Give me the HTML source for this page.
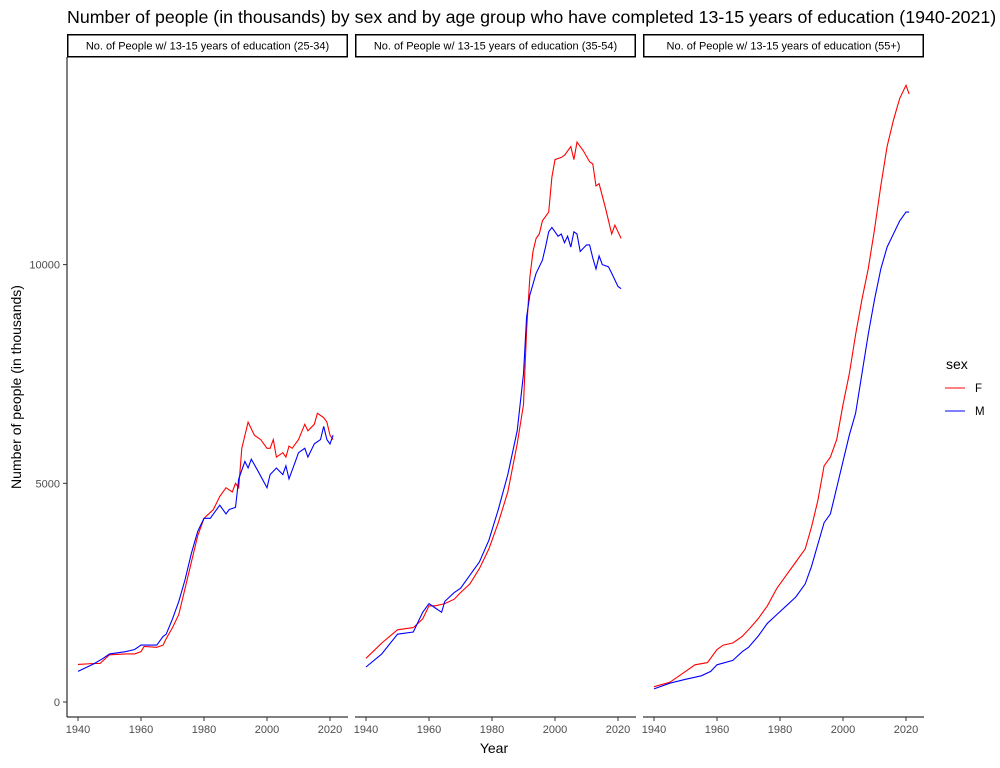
<!DOCTYPE html>
<html><head><meta charset="utf-8"><style>
body{margin:0;background:#fff;font-family:"Liberation Sans",sans-serif;}
</style></head><body>
<svg width="1000" height="763" xmlns="http://www.w3.org/2000/svg" font-family="Liberation Sans, sans-serif">
<text x="67" y="23" font-size="17.8" fill="#000">Number of people (in thousands) by sex and by age group who have completed 13-15 years of education (1940-2021)</text>
<g id="panels"></g>
<text x="494" y="753" font-size="14" text-anchor="middle">Year</text>
<text transform="translate(21,387) rotate(-90)" font-size="14" text-anchor="middle">Number of people (in thousands)</text>
<g>
<text x="946" y="369" font-size="14">sex</text>
<line x1="945" y1="388" x2="965" y2="388" stroke="#ff0000"/>
<text x="975" y="392" font-size="11.5">F</text>
<line x1="945" y1="411" x2="965" y2="411" stroke="#0000ff"/>
<text x="975" y="415" font-size="11.5">M</text>
</g>
</svg>
<script>
const panelTitles=["No. of People w/ 13-15 years of education (25-34)","No. of People w/ 13-15 years of education (35-54)","No. of People w/ 13-15 years of education (55+)"];
const xTicks=[1940,1960,1980,2000,2020];
const yTicks=[0,5000,10000];
const p1F=[[1940,860],[1945,880],[1947,880],[1950,1080],[1955,1100],[1958,1100],[1960,1150],[1961,1270],[1965,1250],[1967,1300],[1968,1450],[1970,1700],[1972,2000],[1974,2600],[1976,3200],[1978,3800],[1980,4200],[1983,4400],[1985,4700],[1987,4900],[1989,4800],[1990,5000],[1991,4900],[1992,5800],[1994,6400],[1996,6100],[1998,6000],[2000,5800],[2001,5800],[2002,6000],[2003,5600],[2005,5700],[2006,5600],[2007,5850],[2008,5800],[2010,6000],[2012,6350],[2013,6200],[2015,6350],[2016,6600],[2018,6500],[2019,6400],[2020,6100],[2021,6000]];
const p1M=[[1940,700],[1945,870],[1948,1000],[1950,1100],[1955,1150],[1958,1200],[1960,1300],[1965,1300],[1967,1500],[1968,1550],[1970,1900],[1972,2300],[1974,2800],[1976,3400],[1978,3900],[1980,4200],[1982,4200],[1983,4300],[1985,4500],[1987,4300],[1988,4400],[1990,4450],[1991,5100],[1993,5500],[1994,5350],[1995,5550],[1997,5300],[2000,4900],[2001,5200],[2003,5350],[2005,5200],[2006,5400],[2007,5100],[2009,5500],[2010,5700],[2012,5800],[2013,5600],[2015,5900],[2017,6000],[2018,6300],[2019,6000],[2020,5900],[2021,6100]];
const p2F=[[1940,1000],[1945,1350],[1950,1650],[1955,1700],[1958,1900],[1960,2200],[1962,2200],[1965,2250],[1968,2350],[1970,2500],[1973,2700],[1976,3050],[1979,3500],[1982,4100],[1985,4800],[1988,5900],[1990,6800],[1991,8500],[1992,9700],[1993,10300],[1994,10600],[1995,10700],[1996,11000],[1998,11200],[1999,12000],[2000,12400],[2002,12450],[2003,12500],[2005,12700],[2006,12400],[2007,12800],[2009,12600],[2011,12350],[2012,12300],[2013,11800],[2014,11850],[2016,11300],[2018,10700],[2019,10900],[2020,10750],[2021,10600]];
const p2M=[[1940,800],[1945,1100],[1950,1550],[1955,1600],[1958,2050],[1960,2250],[1962,2150],[1964,2050],[1965,2300],[1968,2500],[1970,2600],[1973,2900],[1976,3200],[1979,3700],[1982,4400],[1985,5200],[1988,6200],[1990,7500],[1991,8800],[1992,9300],[1994,9800],[1996,10100],[1997,10400],[1998,10750],[1999,10850],[2001,10650],[2002,10700],[2003,10500],[2004,10650],[2005,10400],[2006,10750],[2007,10700],[2008,10300],[2010,10450],[2011,10450],[2012,10150],[2013,9900],[2014,10200],[2015,10000],[2017,9950],[2018,9800],[2020,9500],[2021,9450]];
const p3F=[[1940,350],[1945,450],[1950,700],[1953,850],[1957,900],[1960,1200],[1962,1300],[1965,1350],[1968,1500],[1970,1650],[1973,1900],[1976,2200],[1979,2600],[1982,2900],[1985,3200],[1988,3500],[1990,4000],[1992,4600],[1994,5400],[1996,5600],[1998,6000],[2000,6800],[2002,7500],[2004,8400],[2006,9200],[2008,9900],[2010,10800],[2012,11800],[2014,12700],[2016,13300],[2018,13800],[2020,14100],[2021,13900]];
const p3M=[[1940,300],[1945,430],[1950,520],[1955,600],[1958,700],[1960,850],[1965,950],[1968,1150],[1970,1250],[1973,1500],[1976,1800],[1979,2000],[1982,2200],[1985,2400],[1988,2700],[1990,3100],[1992,3600],[1994,4100],[1996,4300],[1998,4900],[2000,5500],[2002,6100],[2004,6600],[2006,7500],[2008,8400],[2010,9200],[2012,9900],[2014,10400],[2016,10700],[2018,11000],[2020,11200],[2021,11200]];
const seriesF=[p1F,p2F,p3F], seriesM=[p1M,p2M,p3M];
const NS="http://www.w3.org/2000/svg";
const lefts=[67,355,643], W=281, plotTop=57, plotBot=717;
const yS=v=>702-v*0.04374;
const g=document.getElementById('panels');
function mk(t,a,parent){const e=document.createElementNS(NS,t);for(const k in a)e.setAttribute(k,a[k]);(parent||g).appendChild(e);return e;}
lefts.forEach((L,i)=>{
  const xS=y=>L+11+(y-1940)*(252/80);
  const strip=mk('rect',{x:L+0.75,y:34.75,width:W-1.5,height:22,fill:'#fff',stroke:'#000','stroke-width':1.5});
  
  
  const st=mk('text',{x:L+W/2,y:49.5,'font-size':11,'text-anchor':'middle'});st.textContent=panelTitles[i];
  
  
  const ax=mk('line',{x1:L,y1:plotBot,x2:L+W,y2:plotBot,stroke:'#000'});
  
  
  xTicks.forEach(t=>{
    mk('line',{x1:xS(t),y1:plotBot,x2:xS(t),y2:plotBot+4,stroke:'#333'});
    const tl=mk('text',{x:xS(t),y:plotBot+16,'font-size':11,fill:'#4d4d4d','text-anchor':'middle'});tl.textContent=t;
    
    
  });
  [[seriesF[i],'#ff0000','f'],[seriesM[i],'#0000ff','m']].forEach(([d,c,n])=>{
    const p=mk('polyline',{points:d.map(q=>xS(q[0]).toFixed(1)+','+yS(q[1]).toFixed(1)).join(' '),fill:'none',stroke:c,'stroke-width':1.1});
    
    
  });
});
const yl=mk('line',{x1:67,y1:plotTop,x2:67,y2:plotBot,stroke:'#000'});


yTicks.forEach(t=>{
  mk('line',{x1:63,y1:yS(t),x2:67,y2:yS(t),stroke:'#333'});
  const tl=mk('text',{x:60,y:yS(t)+4,'font-size':11,fill:'#4d4d4d','text-anchor':'end'});tl.textContent=t;
  
  
});
</script>
</body></html>
